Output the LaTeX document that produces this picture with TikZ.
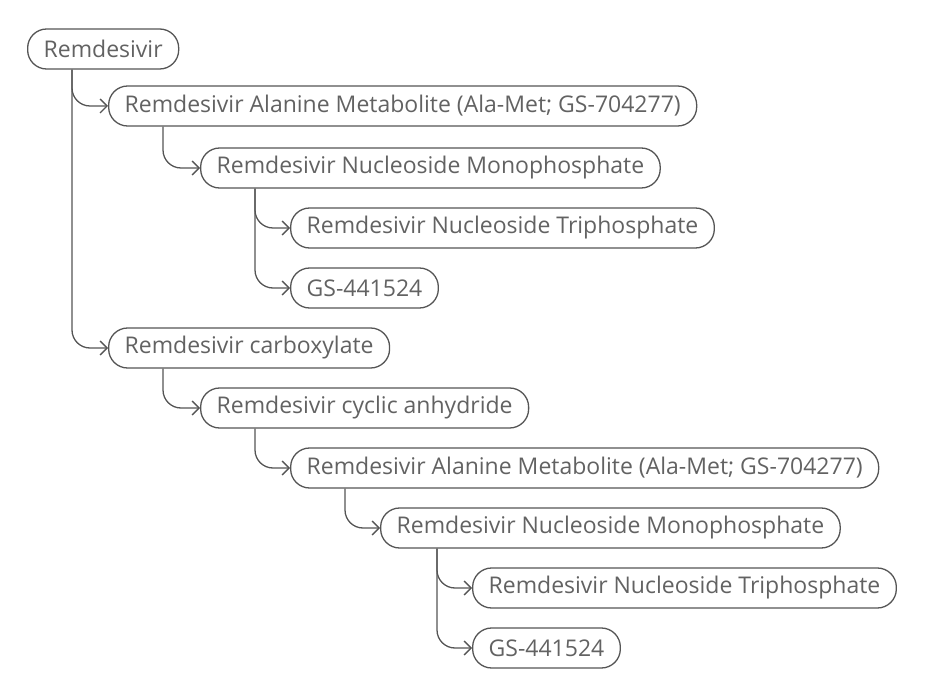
\documentclass[tikz,border=0pt]{standalone}
\usepackage{fontspec}
\setmainfont{Open Sans}
\usepackage{xcolor}
\usetikzlibrary{arrows.meta, positioning, calc}

\definecolor{pillline}{HTML}{555555}
\definecolor{pilltext}{HTML}{626262}

\begin{document}
\begin{tikzpicture}[
    x=1pt, y=-1pt,
    font=\fontsize{23}{27}\selectfont,
    >={Straight Barb[length=7pt,width=14pt]},
    % Styles
    pill/.style={
      draw=pillline,
      line width=1.3pt,
      text=pilltext,
      rounded corners=19pt,
      anchor=west,
      minimum height=40pt,
      inner xsep=16pt,
      inner ysep=2pt
    },
    link/.style={
      ->,
      draw=pillline,
      line width=1.3pt,
      rounded corners=18pt
    }
  ]

    \useasboundingbox (0,0) rectangle (950,700);

    % Active pathway
    \node (rdv) [pill] at (27, 49) {Remdesivir};
    \node (alamet) [pill] at (108, 106) {Remdesivir Alanine Metabolite (Ala-Met; GS-704277)};
    \node (nmp) [pill] at (200, 168) {Remdesivir Nucleoside Monophosphate};
    \node (ntp) [pill] at (290, 228) {Remdesivir Nucleoside Triphosphate};
    \node (gs) [pill] at (290, 288) {GS-441524};

    % Carboxylate pathway
    \node (carbox) [pill] at (108, 348) {Remdesivir carboxylate};
    \node (anhyd) [pill] at (200, 408) {Remdesivir cyclic anhydride};
    \node (alamettwo) [pill] at (290, 468) {Remdesivir Alanine Metabolite (Ala-Met; GS-704277)};
    \node (nmptwo) [pill] at (380, 528) {Remdesivir Nucleoside Monophosphate};
    \node (ntptwo) [pill] at (472, 588) {Remdesivir Nucleoside Triphosphate};
    \node (gstwo) [pill] at (472, 648) {GS-441524};

    % Connections
    \draw [link] ([xshift=45pt]rdv.south west) |- (alamet.west);
    \draw [link] ([xshift=45pt]rdv.south west) |- (carbox.west);
    \draw [link] ([xshift=55pt]alamet.south west) |- (nmp.west);
    \draw [link] ([xshift=55pt]nmp.south west) |- (ntp.west);
    \draw [link] ([xshift=55pt]nmp.south west) |- (gs.west);

    \draw [link] ([xshift=55pt]carbox.south west) |- (anhyd.west);
    \draw [link] ([xshift=55pt]anhyd.south west) |- (alamettwo.west);
    \draw [link] ([xshift=55pt]alamettwo.south west) |- (nmptwo.west);
    \draw [link] ([xshift=57pt]nmptwo.south west) |- (ntptwo.west);
    \draw [link] ([xshift=57pt]nmptwo.south west) |- (gstwo.west);

  \end{tikzpicture}
\end{document}
